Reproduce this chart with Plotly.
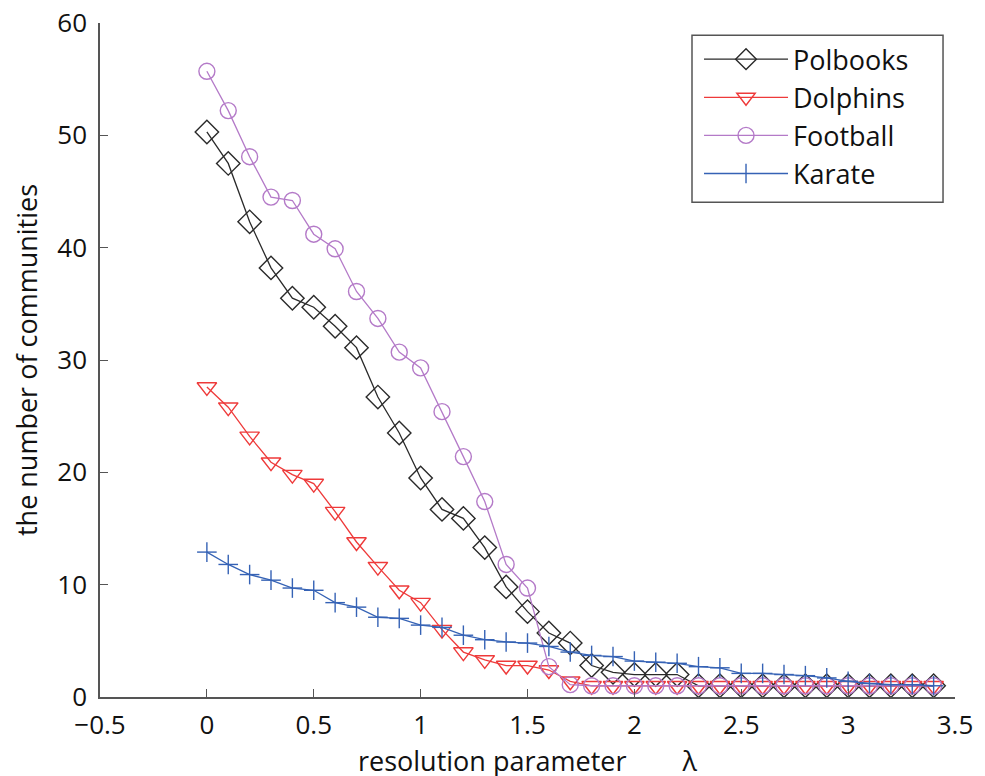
import plotly.graph_objects as go

lam = [round(i * 0.1, 1) for i in range(35)]

polbooks = [50.3, 47.5, 42.3, 38.2, 35.5, 34.7, 33.0, 31.1, 26.7, 23.5,
            19.5, 16.7, 15.9, 13.3, 9.8, 7.6, 5.7, 4.8, 2.8, 2.2,
            2.0, 2.0, 2.0, 1.0, 1.0, 1.0, 1.0, 1.0, 1.0, 1.0,
            1.0, 1.0, 1.0, 1.0, 1.0]
dolphins = [27.6, 25.8, 23.2, 20.9, 19.8, 19.0, 16.5, 13.8, 11.6, 9.5,
            8.4, 6.0, 4.0, 3.3, 2.8, 2.8, 2.4, 1.4, 1.0, 1.0,
            1.0, 1.0, 1.0, 1.0, 1.0, 1.0, 1.0, 1.0, 1.0, 1.0,
            1.0, 1.0, 1.0, 1.0, 1.0]
football = [55.7, 52.2, 48.1, 44.5, 44.2, 41.2, 39.9, 36.1, 33.7, 30.7,
            29.3, 25.4, 21.4, 17.4, 11.8, 9.7, 2.7, 1.1, 1.0, 1.0,
            1.0, 1.0, 1.0, 1.0, 1.0, 1.0, 1.0, 1.0, 1.0, 1.0,
            1.0, 1.0, 1.0, 1.0, 1.0]
karate = [12.9, 11.8, 10.9, 10.4, 9.7, 9.5, 8.4, 8.0, 7.1, 7.0,
          6.4, 6.2, 5.5, 5.1, 4.9, 4.8, 4.5, 4.0, 3.7, 3.6,
          3.2, 3.1, 3.0, 2.7, 2.6, 2.1, 2.1, 2.0, 1.9, 1.7,
          1.4, 1.2, 1.1, 1.1, 1.0]

x_ticks = [-0.5, 0, 0.5, 1, 1.5, 2, 2.5, 3, 3.5]
x_tick_labels = ["\u22120.5", "0", "0.5", "1", "1.5", "2", "2.5", "3", "3.5"]
y_ticks = [0, 10, 20, 30, 40, 50, 60]

series = [
    ("Polbooks", polbooks, "#2a2a2a", "diamond-open", 18),
    ("Dolphins", dolphins, "#ee3a3a", "triangle-down-open", 17),
    ("Football", football, "#b47ac8", "circle-open", 16),
    ("Karate", karate, "#3562b5", "line-ns-open", 14),
]

fig = go.Figure()
for name, vals, col, sym, sz in series:
    fig.add_trace(go.Scatter(
        x=lam, y=vals, name=name, mode="lines+markers",
        line=dict(color=col, width=1.3),
        marker=dict(symbol=sym, size=sz, color=col, line=dict(color=col, width=1.4)),
    ))
# horizontal stroke of the Karate '+' markers
fig.add_trace(go.Scatter(
    x=lam, y=karate, mode="markers", showlegend=False, hoverinfo="skip",
    marker=dict(symbol="line-ew-open", size=14, color="#3562b5",
                line=dict(color="#3562b5", width=1.4)),
))

# legend frame
fig.add_shape(type="rect", xref="paper", yref="paper",
              x0=0.6924, x1=0.986, y0=0.734, y1=0.982,
              line=dict(color="#555", width=1.5), fillcolor="rgba(0,0,0,0)",
              layer="above")

font_family = "Open Sans, Liberation Sans, sans-serif"
nb = "\u00a0"
fig.update_layout(
    width=985, height=776,
    paper_bgcolor="white", plot_bgcolor="white",
    margin=dict(l=92, r=38, t=15, b=87, autoexpand=False),
    font=dict(family=font_family, size=26, color="#111"),
    showlegend=True,
    legend=dict(
        x=0.7006, y=0.982, xanchor="left", yanchor="top",
        bgcolor="rgba(0,0,0,0)", borderwidth=0,
        font=dict(size=27, family=font_family, color="#111"),
        itemwidth=84, tracegroupgap=0,
    ),
    xaxis=dict(
        range=[-0.5, 3.5], tickvals=x_ticks, ticktext=x_tick_labels,
        ticks="inside", ticklen=8, tickcolor="#555", tickwidth=1.2,
        showline=True, linecolor="#555", linewidth=1.5,
        showgrid=False, zeroline=False, automargin=False,
        ticklabelstandoff=4, ticklabeloverflow="allow",
        title=dict(text="resolution parameter" + nb * 8 + "λ", font=dict(size=27), standoff=9),
        tickfont=dict(size=26),
    ),
    yaxis=dict(
        range=[0, 60], tickvals=y_ticks,
        ticks="inside", ticklen=8, tickcolor="#555", tickwidth=1.2,
        showline=True, linecolor="#555", linewidth=1.5,
        showgrid=False, zeroline=False, automargin=False,
        ticklabelstandoff=6, ticklabeloverflow="allow",
        title=dict(text="the number of communities", font=dict(size=27), standoff=12),
        tickfont=dict(size=26),
    ),
)

fig.write_html("out.html")
